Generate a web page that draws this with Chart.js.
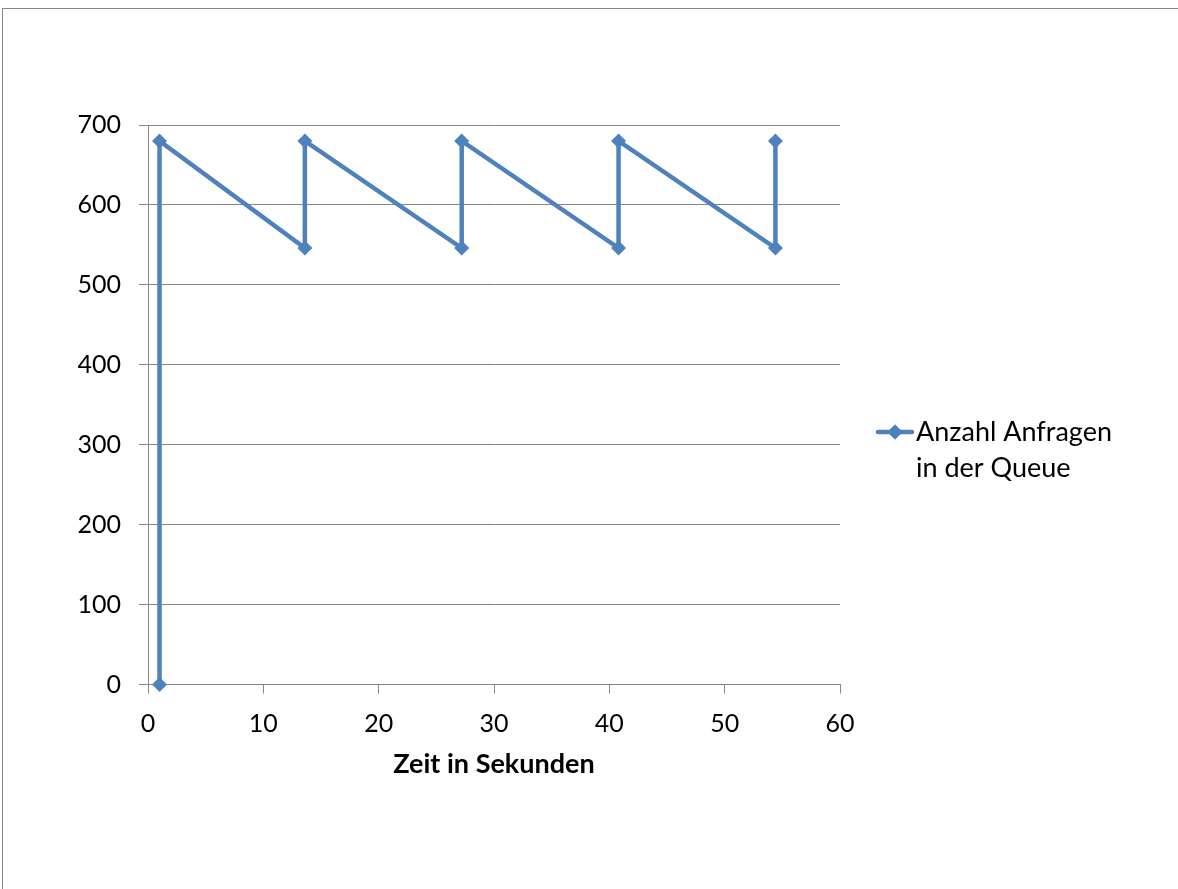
<!DOCTYPE html>
<html>
<head>
<meta charset="utf-8">
<script src="https://cdn.jsdelivr.net/npm/chart.js@4/dist/chart.umd.min.js"></script>
<style>
  html, body { margin: 0; padding: 0; background: #fff; overflow: hidden; }
  canvas { display: block; }
</style>
</head>
<body>
<canvas id="chart" width="1178" height="889"></canvas>
<script>
// Zeitpunkte (s) und Queue-Länge
var zeit    = [1, 1, 13.6, 13.6, 27.2, 27.2, 40.8, 40.8, 54.4, 54.4];
var anfragen = [0, 680, 546, 680, 546, 680, 546, 680, 546, 680];
var serienName = ['Anzahl Anfragen', 'in der Queue'];
var xTitel = 'Zeit in Sekunden';

var FONT = 'Lato, "Open Sans", sans-serif';
var BLAU = '#4F81BD';

var punkte = zeit.map(function(x, i){ return {x: x, y: anfragen[i]}; });

// Rahmen oben und links
var rahmenPlugin = {
    id: 'rahmen',
    beforeDraw: function(chart){
        var ctx = chart.ctx;
        ctx.save();
        ctx.fillStyle = '#888';
        ctx.fillRect(2, 8, 1, chart.height - 8);
        ctx.fillRect(2, 8, chart.width - 2, 1);
        ctx.restore();
    }
};

// Legende rechts neben dem Plot, zweizeilig
var legendePlugin = {
    id: 'legende',
    afterDraw: function(chart){
        var ctx = chart.ctx;
        var ds = chart.data.datasets[0];
        var x0 = chart.chartArea.right + 38;
        var y0 = 432;
        ctx.save();
        ctx.strokeStyle = ds.borderColor;
        ctx.lineWidth = ds.borderWidth;
        ctx.lineCap = 'round';
        ctx.beginPath();
        ctx.moveTo(x0, y0);
        ctx.lineTo(x0 + 34, y0);
        ctx.stroke();
        Chart.helpers.drawPoint(ctx, {pointStyle: 'rectRot', radius: ds.pointRadius, rotation: 0},
            x0 + 17, y0);
        ctx.fillStyle = ds.borderColor;
        ctx.fill();
        ctx.fillStyle = '#000';
        ctx.font = '27px ' + FONT;
        ctx.textBaseline = 'middle';
        ctx.textAlign = 'left';
        for(var i=0; i<serienName.length; i++){
            ctx.fillText(serienName[i], x0 + 38, y0 + i*36);
        }
        ctx.restore();
    }
};

var ctx = document.getElementById('chart').getContext('2d');
var myChart = new Chart(ctx, {
    type: 'scatter',
    data: {
        datasets: [{
            label: serienName.join(' '),
            data: punkte,
            showLine: true,
            clip: false,
            borderColor: BLAU,
            backgroundColor: BLAU,
            borderWidth: 4.5,
            pointStyle: 'rectRot',
            pointRadius: 7.5,
            pointHoverRadius: 7.5,
            pointBorderWidth: 0,
            tension: 0
        }]
    },
    options: {
        responsive: false,
        animation: false,
        events: [],
        layout: { padding: { top: 125, right: 338, left: 0, bottom: 109 } },
        plugins: { legend: { display: false }, tooltip: { enabled: false } },
        scales: {
            x: {
                type: 'linear',
                min: 0, max: 60,
                ticks: { stepSize: 10, color: '#000', padding: 15, font: { family: FONT, size: 25 } },
                grid: { display: true, drawOnChartArea: false, color: '#868686', tickLength: 9, lineWidth: 1 },
                border: { color: '#868686' },
                title: { display: true, text: xTitel, color: '#000', padding: { top: -6, bottom: 0 },
                         font: { family: FONT, size: 27, weight: 'bold' } }
            },
            y: {
                min: 0, max: 700,
                ticks: { stepSize: 100, color: '#000', padding: 18, font: { family: FONT, size: 25 } },
                grid: { color: '#868686', tickLength: 9, lineWidth: 1 },
                border: { color: '#868686' },
                afterFit: function(s){ s.width = 148; }
            }
        }
    },
    plugins: [rahmenPlugin, legendePlugin]
});
</script>
</body>
</html>
